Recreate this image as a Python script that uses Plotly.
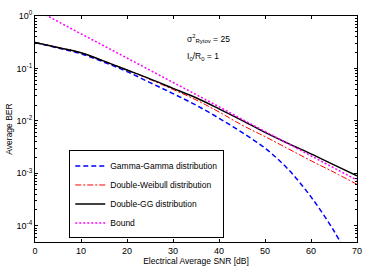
import plotly.graph_objects as go

snr_db = [0, 5, 10, 15, 20, 25, 30, 35, 40, 45, 50, 55, 60, 65, 70]
gg_x = [0, 5, 10, 15, 20, 25, 30, 35, 40, 45, 50, 55, 60, 65, 67.5]
gg_log = [-0.505, -0.61, -0.72, -0.88, -1.06, -1.27, -1.48, -1.70, -1.95, -2.22, -2.52, -2.92, -3.45, -4.10, -4.50]
dw_log = [-0.505, -0.60, -0.70, -0.86, -1.03, -1.21, -1.40, -1.60, -1.83, -2.08, -2.30, -2.53, -2.76, -2.98, -3.21]
dgg_log = [-0.505, -0.60, -0.70, -0.86, -1.03, -1.20, -1.38, -1.56, -1.77, -1.99, -2.22, -2.43, -2.63, -2.84, -3.05]
bound_log = [0.13, -0.11, -0.34, -0.57, -0.80, -1.04, -1.27, -1.50, -1.73, -1.97, -2.20, -2.43, -2.66, -2.90, -3.13]

y_ticks = [1e-4, 1e-3, 1e-2, 1e-1, 1]
y_ticktext = ["10<sup>-4</sup>", "10<sup>-3</sup>", "10<sup>-2</sup>", "10<sup>-1</sup>", "10<sup>0</sup>"]
x_ticks = [0, 10, 20, 30, 40, 50, 60, 70]

def p(v):
    return [10 ** a for a in v]

fig = go.Figure()
fig.add_trace(go.Scatter(x=gg_x, y=p(gg_log), mode="lines", name="Gamma-Gamma distribution",
                         legendgroup="a", line=dict(color="#0000ff", width=1.5, dash="5px,3px", shape="spline")))
fig.add_trace(go.Scatter(x=snr_db, y=p(dw_log), mode="lines", name="Double-Weibull distribution",
                         legendgroup="b", line=dict(color="#ff0000", width=1, dash="6px,2px,2px,2px", shape="spline")))
fig.add_trace(go.Scatter(x=snr_db, y=p(dgg_log), mode="lines", name="Double-GG distribution",
                         legendgroup="c", line=dict(color="#000000", width=1.5, shape="spline")))
fig.add_trace(go.Scatter(x=snr_db, y=p(bound_log), mode="lines", name="Bound",
                         legendgroup="d", line=dict(color="#ff00ff", width=1.5, dash="2px,2px")))

font = "Liberation Sans, Arial, sans-serif"
axis_common = dict(showline=True, linecolor="black", linewidth=1, mirror="allticks",
                   ticks="inside", ticklen=3, tickcolor="black", showgrid=False, zeroline=False,
                   tickfont=dict(family=font, size=9, color="black"))

L, R, T, B = 32, 10, 9, 22
pw, ph = 371 - L - R, 273 - T - B

def px_x(v):
    return (v - L) / pw

def px_y(v):
    return 1 - (v - T) / ph

fig.update_layout(
    width=371, height=273,
    margin=dict(l=L, r=R, t=T, b=B),
    paper_bgcolor="white", plot_bgcolor="white",
    font=dict(family=font, size=9, color="black"),
    showlegend=True,
    legend=dict(x=px_x(67), y=px_y(153), xanchor="left", yanchor="top",
                bgcolor="white", bordercolor="black", borderwidth=1,
                font=dict(family=font, size=8.5, color="black"),
                tracegroupgap=0, itemwidth=30),
    xaxis=dict(range=[0, 70], tickvals=x_ticks, **axis_common,
               title=dict(text="Electrical Average SNR [dB]", font=dict(family=font, size=8.5), standoff=2)),
    yaxis=dict(type="log", range=[-4.31, 0], tickvals=y_ticks, ticktext=y_ticktext,
               minor=dict(ticks="inside", ticklen=2, tickcolor="black", dtick="D1", showgrid=False),
               **axis_common,
               title=dict(text="Average BER", font=dict(family=font, size=8.5), standoff=2)),
    annotations=[
        dict(x=px_x(185), y=px_y(33), xref="paper", yref="paper",
             text="σ<sup>2</sup><sub>Rytov</sub> = 25", showarrow=False,
             font=dict(family=font, size=8.5), xanchor="left", yanchor="middle"),
        dict(x=px_x(185), y=px_y(52), xref="paper", yref="paper",
             text="I<sub>0</sub>/R<sub>0</sub> = 1", showarrow=False,
             font=dict(family=font, size=8.5), xanchor="left", yanchor="middle"),
    ],
)

fig.write_html("out.html", config={"displayModeBar": False},
               post_script="document.body.style.margin='0';document.body.style.overflow='hidden';")
